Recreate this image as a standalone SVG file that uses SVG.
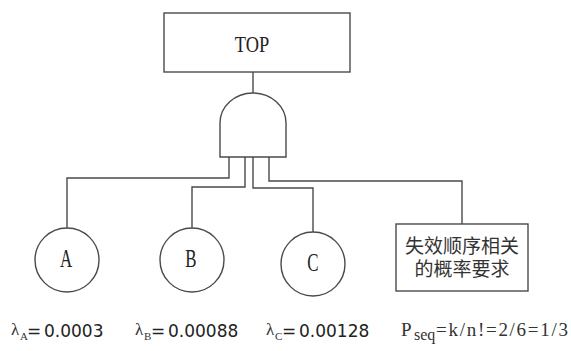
<svg xmlns="http://www.w3.org/2000/svg" width="571" height="351" viewBox="0 0 571 351">
<style>
.sh{fill:#fff;stroke:#4a4a4a;stroke-width:1.4}
.ln{fill:none;stroke:#4a4a4a;stroke-width:1.4}
.lt{font-family:"Liberation Serif",serif;fill:#222;text-anchor:middle}
.cjk{font-family:"Liberation Serif","Noto Sans CJK SC",serif;font-size:19px;fill:#333;text-anchor:middle}
.sans{font-family:"DejaVu Sans",sans-serif;fill:#222}
.ser{font-family:"Liberation Serif",serif;fill:#333}
</style>
<rect width="571" height="351" fill="#fff"/>
<g id="connectors">
<path class="ln" d="M253,72 V93"/>
<path class="ln" d="M229,157 V178 H67 V228"/>
<path class="ln" d="M245,157 V187 H192 V228"/>
<path class="ln" d="M253,157 V188 H313 V232"/>
<path class="ln" d="M269,157 V181 H462 V224"/>
</g>
<g id="top">
<rect class="sh" x="164" y="13" width="186" height="59"/>
<text class="lt" font-size="23" transform="translate(252,52) scale(0.8,1)">TOP</text>
</g>
<g id="and-gate">
<path class="sh" d="M220,157 V123 A33,30 0 0 1 286,123 V157 Z"/>
</g>
<g id="A">
<circle class="sh" cx="67" cy="260" r="32"/>
<text class="lt" font-size="26" transform="translate(66,267) scale(0.65,1)">A</text>
</g>
<g id="B">
<circle class="sh" cx="192" cy="260" r="32"/>
<text class="lt" font-size="26" transform="translate(191,267) scale(0.65,1)">B</text>
</g>
<g id="C">
<circle class="sh" cx="313" cy="264" r="32"/>
<text class="lt" font-size="26" transform="translate(313,271) scale(0.65,1)">C</text>
</g>
<g id="seq">
<rect class="sh" x="396" y="224" width="132" height="67"/>
<text class="cjk" x="462" y="253">失效顺序相关</text>
<text class="cjk" x="462" y="276">的概率要求</text>
</g>
<g id="labels">
<text class="ser" x="11" y="335" font-size="17">λ</text>
<text class="ser" x="20" y="340" font-size="11">A</text>
<text class="sans" x="27" y="337" font-size="17">=</text>
<text class="sans" x="44" y="337" font-size="17">0.0003</text>

<text class="ser" x="135" y="335" font-size="17">λ</text>
<text class="ser" x="144" y="340" font-size="11">B</text>
<text class="sans" x="151" y="337" font-size="17">=</text>
<text class="sans" x="168" y="337" font-size="17">0.00088</text>

<text class="ser" x="266" y="335" font-size="17">λ</text>
<text class="ser" x="275" y="340" font-size="11">C</text>
<text class="sans" x="282" y="337" font-size="17">=</text>
<text class="sans" x="299" y="337" font-size="17">0.00128</text>

<text class="ser" x="401" y="336" font-size="19">P</text>
<text class="ser" x="414" y="340" font-size="16">seq</text>
<text class="ser" x="436" y="336" font-size="19" textLength="132" lengthAdjust="spacing">=k/n!=2/6=1/3</text>
</g>
</svg>
